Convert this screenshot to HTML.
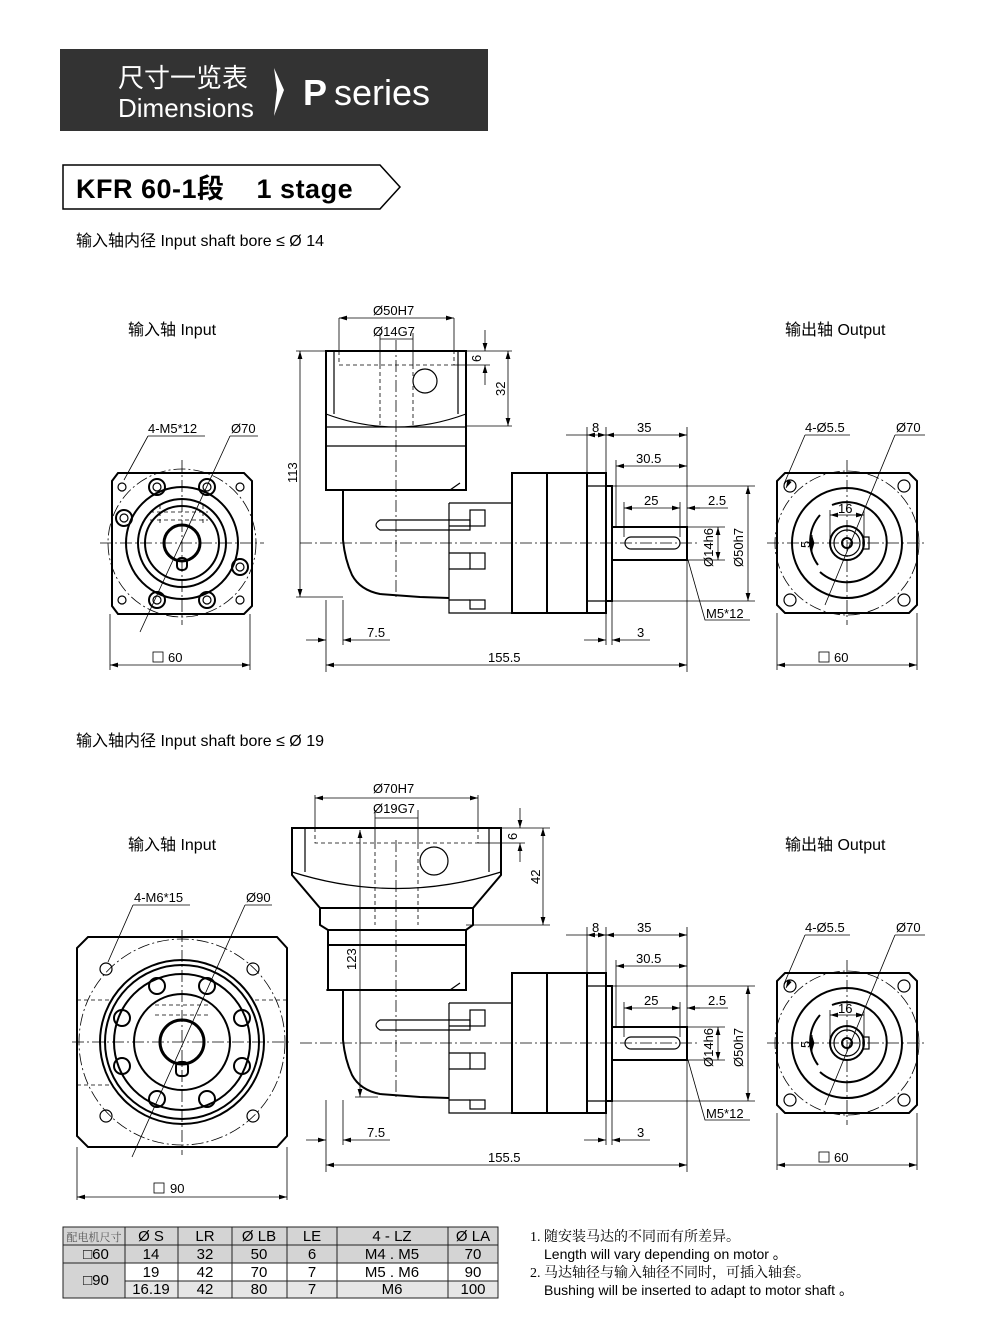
<!DOCTYPE html>
<html><head><meta charset="utf-8"><style>
body{margin:0;background:#fff}
svg{display:block}
text{font-family:"Liberation Sans","Noto Sans CJK SC",sans-serif;fill:#000}
.t{font-size:13px}
.o{fill:none;stroke:#000;stroke-width:2}
.m{fill:none;stroke:#000;stroke-width:1.2}
.d{fill:none;stroke:#000;stroke-width:0.8}
.dd{fill:none;stroke:#000;stroke-width:0.8;stroke-dasharray:4 3}
.c{fill:none;stroke:#000;stroke-width:0.8;stroke-dasharray:12 3 2 3}
.a{fill:none;stroke:#000;stroke-width:0.8;marker-start:url(#ar);marker-end:url(#ar)}
</style></head><body>
<svg width="1000" height="1338" viewBox="0 0 1000 1338" xmlns="http://www.w3.org/2000/svg">
<defs>
<marker id="ar" viewBox="0 0 10 10" refX="10" refY="5" markerWidth="8" markerHeight="8" orient="auto-start-reverse" markerUnits="userSpaceOnUse"><path d="M0,2 L10,5 L0,8z" fill="#000"/></marker>
<g id="side">
  <path class="o" d="M343,490 V540 Q345,560 352,575 Q360,590 380,594 L420,597 L449,598"/>
  <path class="m" d="M326,490 H450 L460,483"/>
  <path class="m" d="M449,503 V613 H512 M449,503 H512"/>
  <path class="m" d="M380,520 H470 V530 H380 Q372,525 380,520Z"/>
  <rect class="m" x="470" y="510" width="15" height="16"/>
  <rect class="m" x="470" y="553" width="15" height="16"/>
  <rect class="m" x="470" y="600" width="15" height="9"/>
  <path class="m" d="M449,526 H470 M449,553 H470 M449,569 H470 M449,600 H470"/>
  <rect class="o" x="512" y="473" width="35" height="140"/>
  <rect class="o" x="547" y="473" width="40" height="140"/>
  <rect class="o" x="587" y="473" width="19" height="140"/>
  <path class="m" d="M587,486 H606 M587,601 H606"/>
  <rect class="o" x="606" y="486" width="6" height="115"/>
  <rect class="o" x="612" y="527" width="75" height="33"/>
  <rect class="m" x="625" y="537" width="55" height="12" rx="6"/>
  <path class="c" d="M300,543 H700"/>
  <path class="c" d="M396,340 V600"/>
  <path class="d" d="M566,435 H587 M587,427 V473 M606,427 V486 M687,427 V527"/>
  <path class="a" d="M587,435 H606"/><path class="a" d="M606,435 H687"/>
  <text class="t" x="592" y="432">8</text><text class="t" x="637" y="432">35</text>
  <path class="a" d="M616,466 H687"/><path class="d" d="M616,460 V527"/>
  <text class="t" x="636" y="463">30.5</text>
  <path class="a" d="M624,508 H680"/><path class="d" d="M624,502 V537 M680,502 V537"/>
  <path class="d" d="M687,508 H728"/><path class="d" d="M700,508 H687" marker-end="url(#ar)"/>
  <text class="t" x="644" y="505">25</text><text class="t" x="708" y="505">2.5</text>
  <path class="d" d="M612,486 H755 M612,601 H755 M687,527 H725 M687,560 H725"/>
  <path class="a" d="M748,486 V601"/><path class="a" d="M718,527 V560"/>
  <text class="t" transform="translate(743,567) rotate(-90)">Ø50h7</text>
  <text class="t" transform="translate(713,567) rotate(-90)">Ø14h6</text>
  <path class="d" d="M688,560 L705,620 H750"/><text class="t" x="706" y="618">M5*12</text>
  <path class="d" d="M326,600 V672 M343,600 V645 M606,613 V645 M612,601 V645 M687,560 V672"/>
  <path class="d" d="M306,640 H326" marker-end="url(#ar)"/><path class="d" d="M343,640 H390" marker-start="url(#ar)"/>
  <text class="t" x="367" y="637">7.5</text>
  <path class="d" d="M584,640 H606" marker-end="url(#ar)"/><path class="d" d="M612,640 H650" marker-start="url(#ar)"/>
  <text class="t" x="637" y="637">3</text>
  <path class="a" d="M326,665 H687"/><text class="t" x="488" y="662">155.5</text>
</g>
<g id="outv">
  <path class="o" d="M785,473 H909 L917,481 V605 L909,613 H785 L777,605 V481Z"/>
  <circle class="c" cx="847" cy="543" r="72"/>
  <circle class="o" cx="847" cy="543" r="55"/>
  <path class="o" d="M832,505 A40,40 0 1 1 820,572 M820,515 A40,40 0 0 0 818,565"/>
  <circle class="o" cx="847" cy="543" r="17"/><circle class="m" cx="847" cy="543" r="13"/>
  <circle class="o" cx="847" cy="543" r="5"/>
  <rect class="m" x="863" y="537" width="6" height="12"/>
  <g class="m"><circle cx="790" cy="486" r="6"/><circle cx="904" cy="486" r="6"/><circle cx="790" cy="600" r="6"/><circle cx="904" cy="600" r="6"/></g>
  <path class="c" d="M767,543 H927 M847,460 V625"/>
  <path class="a" d="M830,515 H864"/><path class="d" d="M830,510 V540 M864,510 V540"/>
  <text class="t" x="838" y="513">16</text>
  <path class="a" d="M812,535 V551"/><text class="t" transform="translate(810,548) rotate(-90)">5</text>
  <path class="d" d="M805,435 H850 M805,435 L784,484" /><path class="d" d="M790,480 L786,488" marker-end="url(#ar)"/>
  <text class="t" x="805" y="432">4-Ø5.5</text>
  <path class="d" d="M895,435 H925 M895,435 L825,605"/><text class="t" x="896" y="432">Ø70</text>
  <path class="d" d="M777,613 V670 M917,613 V670"/>
  <path class="a" d="M777,665 H917"/><rect class="d" x="819" y="652" width="10" height="10"/><text class="t" x="834" y="662">60</text>
</g>
</defs>

<rect x="60" y="49" width="428" height="82" fill="#333"/>
<text x="118" y="87" style="font-size:26px;fill:#fff">尺寸一览表</text>
<text x="118" y="117" style="font-size:26px;fill:#fff">Dimensions</text>
<path d="M274,68 L284,90 L274,116 L277,90Z" fill="#fff"/>
<text x="303" y="105" style="font-size:36px;fill:#fff;font-weight:bold">P</text>
<text x="334" y="105" style="font-size:36px;fill:#fff">series</text>
<path d="M63,165 H380 L400,187 L380,209 H63Z" fill="#fff" stroke="#000" stroke-width="1.5"/>
<text x="76" y="198" style="font-size:27px;font-weight:bold;letter-spacing:0.5px">KFR 60-1段&#160;&#160;&#160;&#160;1 stage</text>
<text x="76" y="246" style="font-size:16px">输入轴内径 Input shaft bore ≤ Ø 14</text>
<text x="76" y="746" style="font-size:16px">输入轴内径 Input shaft bore ≤ Ø 19</text>
<text x="128" y="335" style="font-size:16px">输入轴  Input</text>
<text x="785" y="335" style="font-size:16px">输出轴  Output</text>
<text x="128" y="850" style="font-size:16px">输入轴  Input</text>
<text x="785" y="850" style="font-size:16px">输出轴  Output</text>

<use href="#side"/>
<path class="o" d="M326,351 H466 V490 H326Z"/>
<path class="m" d="M334,351 V414 M458,351 V414 M326,414 Q396,440 466,414 M326,427 H466 M326,446 H466"/>
<path class="dd" d="M339,351 V365 H454 V351 M380,365 V427 M413,365 V427"/>
<circle class="m" cx="425" cy="381" r="12"/>
<path class="d" d="M339,318 V351 M454,318 V351 M380,333 V365 M413,333 V365"/>
<path class="a" d="M339,318 H454"/><text class="t" x="373" y="315">Ø50H7</text>
<path class="d" d="M380,339 H413"/><text class="t" x="373" y="336">Ø14G7</text>
<path class="d" d="M466,351 H512 M454,365 H490 M466,426 H512"/>
<path class="d" d="M485,330 V351" marker-end="url(#ar)"/><path class="d" d="M485,385 V365" marker-end="url(#ar)"/>
<text class="t" transform="translate(481,362) rotate(-90)">6</text>
<path class="a" d="M508,351 V426"/><text class="t" transform="translate(505,396) rotate(-90)">32</text>
<path class="d" d="M296,351 H326 M296,597 H343"/>
<path class="a" d="M300,351 V597"/><text class="t" transform="translate(297,483) rotate(-90)">113</text>

<g>
<path class="o" d="M118,473 H244 L252,481 V606 L244,614 H118 L112,606 V481Z"/>
<circle class="c" cx="182" cy="543" r="74"/>
<circle class="o" cx="182" cy="543" r="56"/>
<circle class="o" cx="182" cy="543" r="44"/>
<circle class="o" cx="182" cy="543" r="37"/>
<circle cx="182" cy="543" r="18" fill="none" stroke="#000" stroke-width="3"/>
<rect class="o" x="177" y="558" width="10" height="12" rx="4"/>
<path class="dd" d="M150,520 H208 M150,512 H208 M160,505 V525 M203,505 V525"/>
<g class="o">
<circle cx="157" cy="487" r="8"/><circle cx="207" cy="487" r="8"/><circle cx="124" cy="518" r="8"/><circle cx="240" cy="567" r="8"/>
<circle cx="157" cy="600" r="8"/><circle cx="207" cy="600" r="8"/></g>
<g class="m"><circle cx="157" cy="487" r="4"/><circle cx="207" cy="487" r="4"/><circle cx="124" cy="518" r="4"/><circle cx="240" cy="567" r="4"/><circle cx="157" cy="600" r="4"/><circle cx="207" cy="600" r="4"/>
<circle cx="122" cy="487" r="4"/><circle cx="240" cy="487" r="4"/><circle cx="122" cy="600" r="4"/><circle cx="240" cy="600" r="4"/></g>
<path class="c" d="M100,543 H264 M182,460 V625"/>
<path class="d" d="M148,436 H205 M148,436 L124,480"/><text class="t" x="148" y="433">4-M5*12</text>
<path class="d" d="M230,436 H258 M230,436 L140,632"/><text class="t" x="231" y="433">Ø70</text>
<path class="d" d="M110,614 V670 M250,614 V670"/>
<path class="a" d="M110,665 H250"/><rect class="d" x="153" y="652" width="10" height="10"/><text class="t" x="168" y="662">60</text>
</g>
<use href="#outv"/>

<use href="#side" transform="translate(0,500)"/>
<path class="o" d="M292,828 H501 V875 L473,908 H320 L292,875Z"/>
<path class="m" d="M305,828 V872 M489,828 V872 M292,872 Q396,905 501,872"/>
<path class="o" d="M320,908 H473 V925 L466,930 H328 L320,925Z"/>
<path class="o" d="M328,930 H466 V990 H328Z M328,945 H466"/>
<path class="dd" d="M315,828 V843 H478 V828 M375,845 V925 M418,845 V925"/>
<circle class="m" cx="434" cy="861" r="14"/>
<path class="d" d="M315,795 V828 M478,795 V828 M375,810 V845 M418,810 V845"/>
<path class="a" d="M315,798 H478"/><text class="t" x="373" y="793">Ø70H7</text>
<path class="d" d="M375,818 H418"/><text class="t" x="373" y="813">Ø19G7</text>
<path class="d" d="M501,828 H550 M478,843 H525 M466,925 H550"/>
<path class="d" d="M520,808 V828" marker-end="url(#ar)"/><path class="d" d="M520,862 V843" marker-end="url(#ar)"/>
<text class="t" transform="translate(517,840) rotate(-90)">6</text>
<path class="a" d="M543,828 V925"/><text class="t" transform="translate(540,884) rotate(-90)">42</text>
<path class="a" d="M360,830 V1097"/><path class="d" d="M355,1097 H378"/>
<text class="t" transform="translate(356,970) rotate(-90)">123</text>

<g>
<path class="o" d="M88,937 H277 L287,948 V1136 L277,1147 H88 L77,1136 V948Z"/>
<circle class="c" cx="182" cy="1042" r="103"/>
<circle class="o" cx="182" cy="1042" r="82"/>
<circle class="o" cx="182" cy="1042" r="77"/>
<circle class="o" cx="182" cy="1042" r="68"/>
<circle class="o" cx="182" cy="1042" r="48"/>
<circle cx="182" cy="1042" r="22" fill="none" stroke="#000" stroke-width="3"/>
<rect class="o" x="176" y="1062" width="12" height="14" rx="4"/>
<path class="dd" d="M155,1005 H210 M155,1015 H210 M77,1000 H110 M255,1000 H287 M77,1085 H110"/>
<g class="o"><circle cx="157" cy="986" r="8"/><circle cx="207" cy="986" r="8"/><circle cx="122" cy="1018" r="8"/><circle cx="242" cy="1018" r="8"/>
<circle cx="122" cy="1066" r="8"/><circle cx="242" cy="1066" r="8"/><circle cx="157" cy="1099" r="8"/><circle cx="207" cy="1099" r="8"/></g>
<g class="m"><circle cx="106" cy="969" r="6"/><circle cx="253" cy="969" r="6"/><circle cx="106" cy="1116" r="6"/><circle cx="253" cy="1116" r="6"/></g>
<path class="c" d="M72,1042 H292 M182,930 V1155"/>
<path class="d" d="M133,905 H190 M133,905 L108,962"/><text class="t" x="134" y="902">4-M6*15</text>
<path class="d" d="M245,905 H272 M245,905 L132,1157"/><text class="t" x="246" y="902">Ø90</text>
<path class="d" d="M77,1147 V1200 M287,1147 V1200"/>
<path class="a" d="M77,1197 H287"/><rect class="d" x="154" y="1183" width="10" height="10"/><text class="t" x="170" y="1193">90</text>
</g>
<use href="#outv" transform="translate(0,500)"/>

<g>
<rect x="63" y="1227" width="435" height="18" fill="#d4d4d4"/>
<rect x="63" y="1245" width="435" height="18" fill="#d4d4d4"/>
<rect x="63" y="1263" width="62" height="35" fill="#d4d4d4"/>
<rect x="125" y="1281" width="373" height="17" fill="#e6e6e6"/>
<path d="M63,1227 H498 V1298 H63Z M63,1245 H498 M63,1263 H498 M125,1281 H498 M125,1227 V1298 M178,1227 V1298 M232,1227 V1298 M287,1227 V1298 M337,1227 V1298 M448,1227 V1298" fill="none" stroke="#222" stroke-width="1"/>
<g style="font-size:15px" text-anchor="middle">
<text x="94" y="1241" style="font-size:11px;font-family:'Noto Serif CJK SC',serif;fill:#555">配电机尺寸</text>
<text x="151" y="1241">Ø S</text><text x="205" y="1241">LR</text><text x="259" y="1241">Ø LB</text><text x="312" y="1241">LE</text><text x="392" y="1241">4 - LZ</text><text x="473" y="1241">Ø LA</text>
<text x="96" y="1259">□60</text><text x="151" y="1259">14</text><text x="205" y="1259">32</text><text x="259" y="1259">50</text><text x="312" y="1259">6</text><text x="392" y="1259">M4 . M5</text><text x="473" y="1259">70</text>
<text x="96" y="1285">□90</text>
<text x="151" y="1277">19</text><text x="205" y="1277">42</text><text x="259" y="1277">70</text><text x="312" y="1277">7</text><text x="392" y="1277">M5 . M6</text><text x="473" y="1277">90</text>
<text x="151" y="1294">16.19</text><text x="205" y="1294">42</text><text x="259" y="1294">80</text><text x="312" y="1294">7</text><text x="392" y="1294">M6</text><text x="473" y="1294">100</text>
</g>
</g>
<g style="font-size:14px">
<text x="530" y="1241" style="font-family:'Liberation Serif','Noto Serif CJK SC',serif;font-size:14px">1. 随安装马达的不同而有所差异。</text>
<text x="544" y="1259">Length will vary depending on motor 。</text>
<text x="530" y="1277" style="font-family:'Liberation Serif','Noto Serif CJK SC',serif;font-size:14px">2. 马达轴径与输入轴径不同时，可插入轴套。</text>
<text x="544" y="1295">Bushing will be inserted to adapt to motor shaft 。</text>
</g>
</svg>
</body></html>
